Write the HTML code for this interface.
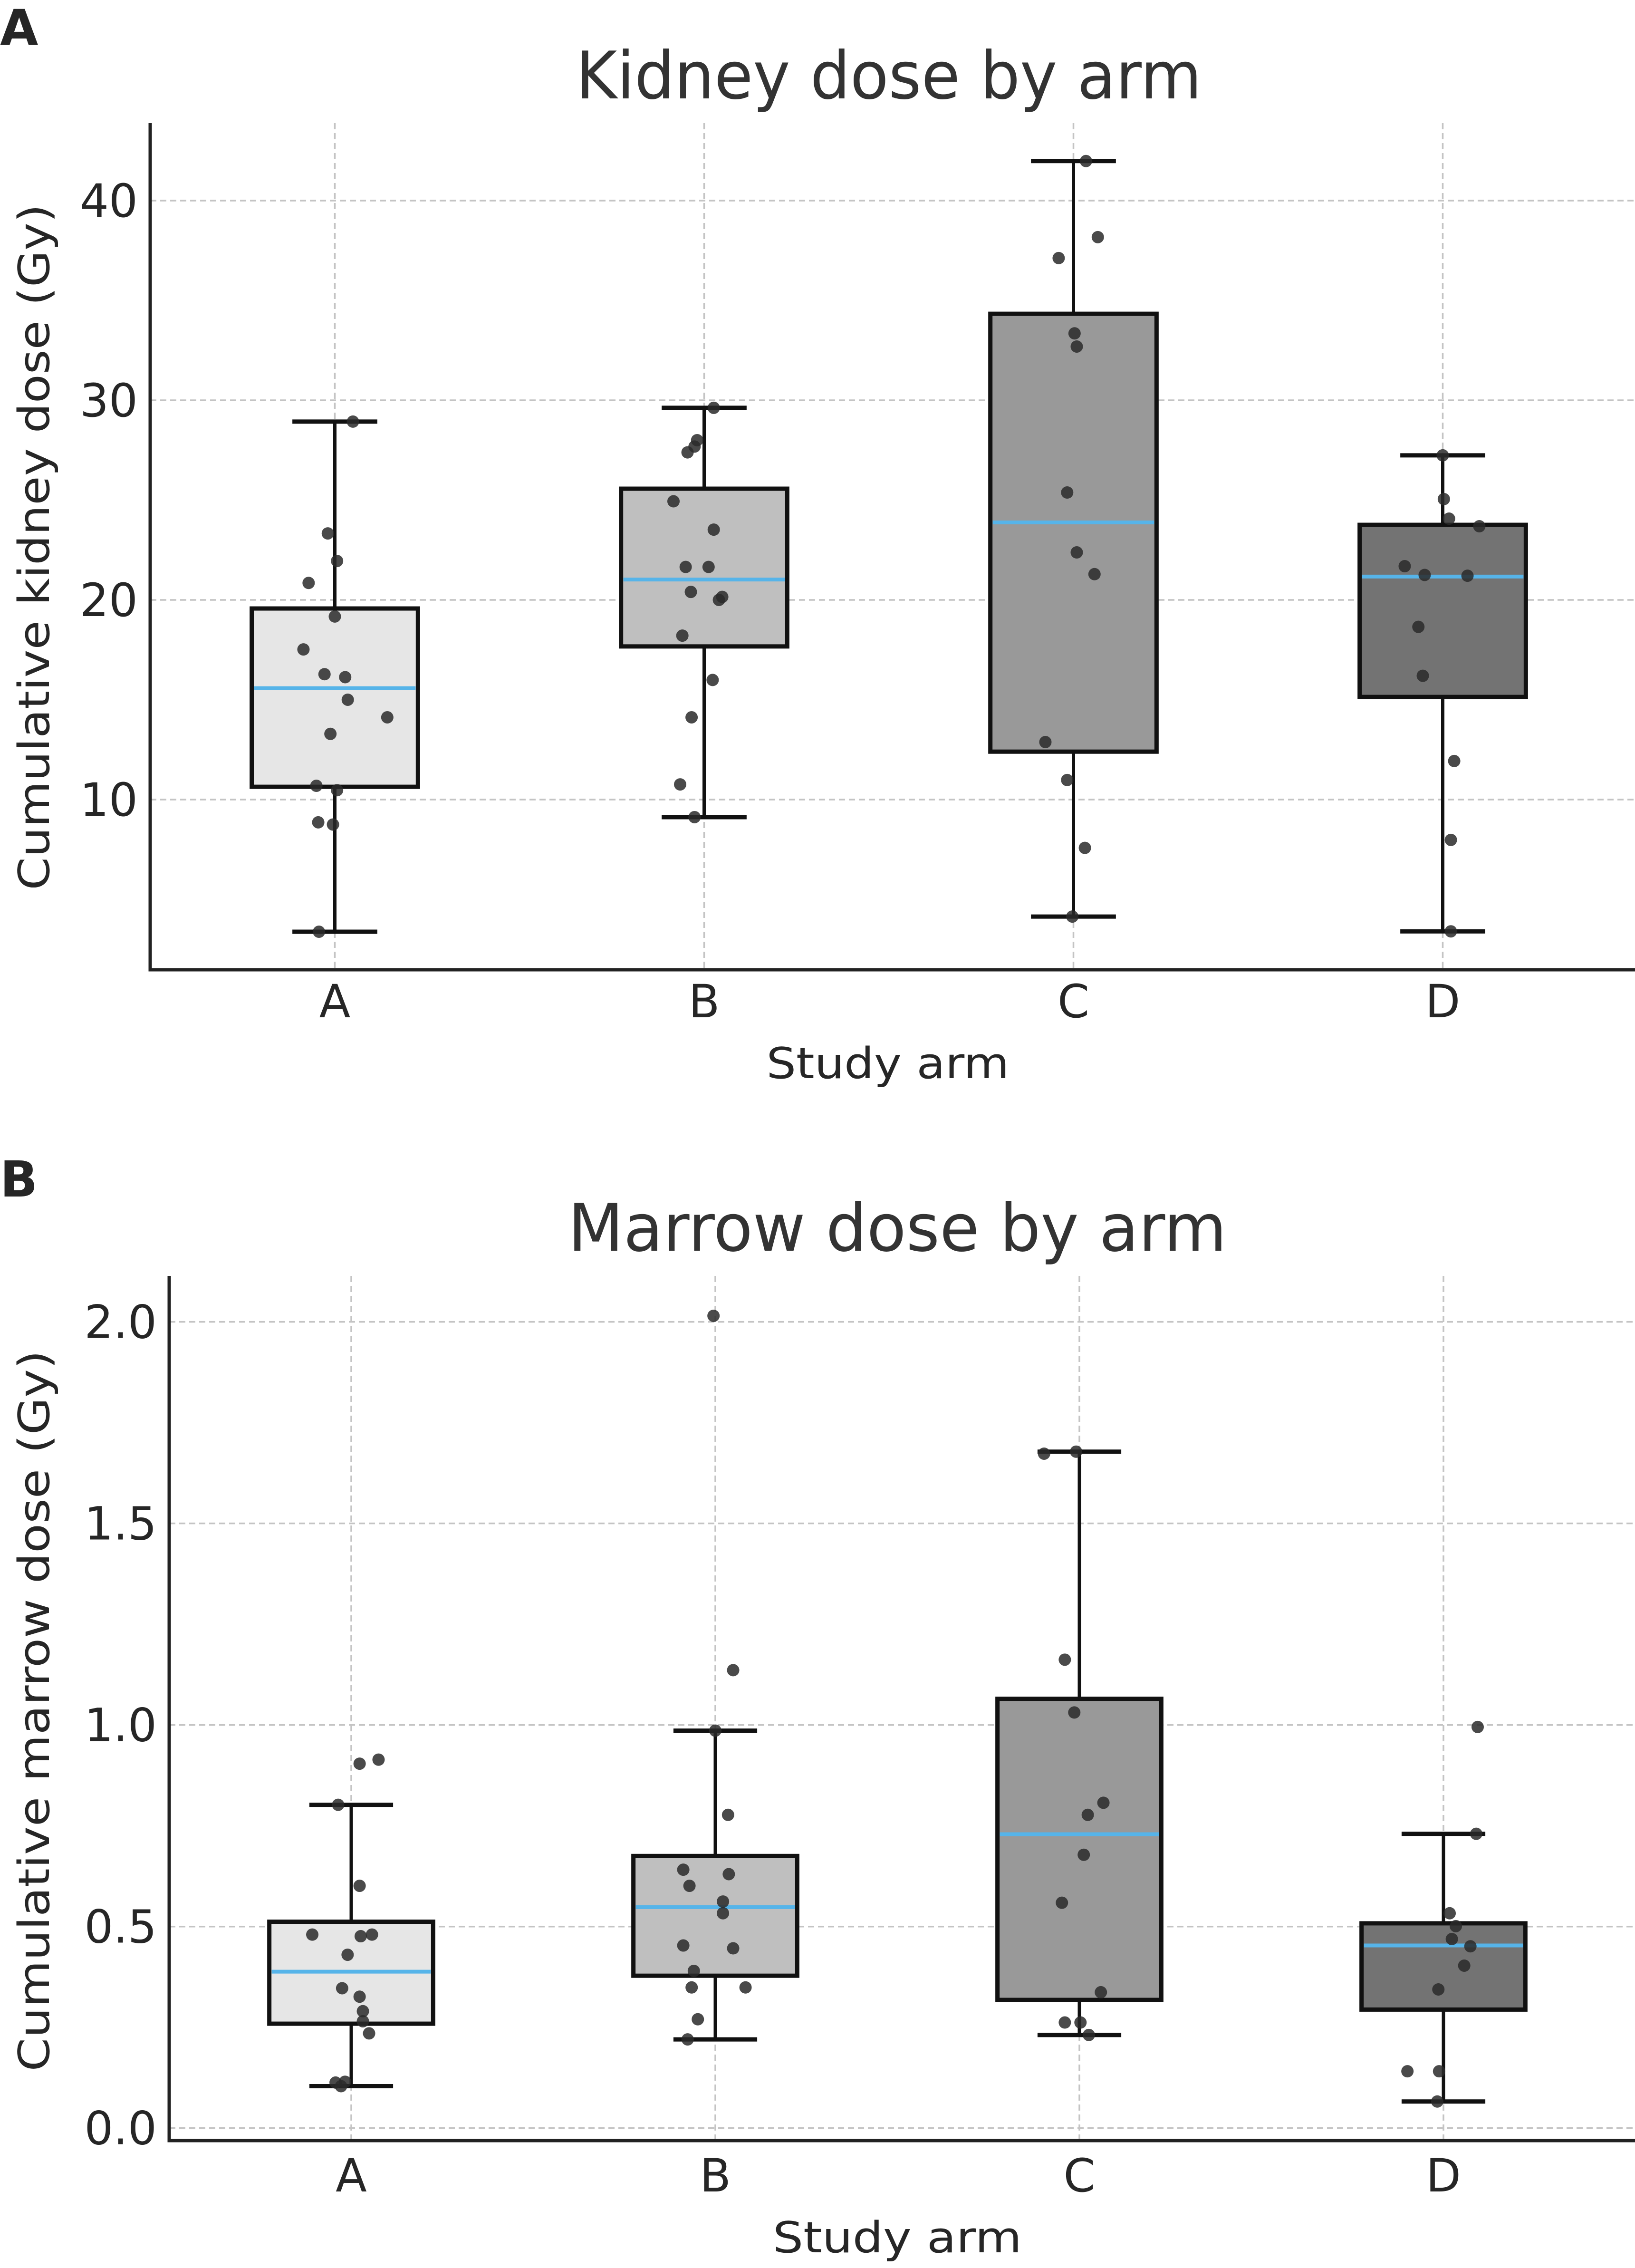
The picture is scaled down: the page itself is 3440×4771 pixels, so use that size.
<!DOCTYPE html>
<html><head><meta charset="utf-8">
<style>
html,body{margin:0;padding:0;background:#fff;}
svg{display:block;}
text{font-family:"DejaVu Sans","Liberation Sans",sans-serif;fill:#262626;}
</style></head>
<body>
<svg id="fig" width="3440" height="4771" viewBox="0 0 3440 4771" xmlns="http://www.w3.org/2000/svg">
<rect width="3440" height="4771" fill="#fff"/>
<text x="0" y="95" font-size="104" font-weight="bold" fill="#000">A</text>
<text x="1870" y="207" font-size="138" text-anchor="middle" textLength="1317" lengthAdjust="spacingAndGlyphs" style="fill:#333">Kidney dose by arm</text>
<text x="1868" y="2268" font-size="90" text-anchor="middle" textLength="511" lengthAdjust="spacingAndGlyphs">Study arm</text>
<text transform="translate(103,1151) rotate(-90)" font-size="90" text-anchor="middle" textLength="1443" lengthAdjust="spacingAndGlyphs">Cumulative kidney dose (Gy)</text>
<text x="0" y="2517" font-size="104" font-weight="bold" fill="#000">B</text>
<text x="1888" y="2631" font-size="138" text-anchor="middle" textLength="1386" lengthAdjust="spacingAndGlyphs" style="fill:#333">Marrow dose by arm</text>
<text x="1888" y="4738" font-size="90" text-anchor="middle" textLength="524" lengthAdjust="spacingAndGlyphs">Study arm</text>
<text transform="translate(103,3599) rotate(-90)" font-size="90" text-anchor="middle" textLength="1517" lengthAdjust="spacingAndGlyphs">Cumulative marrow dose (Gy)</text>
</svg>
<script>
// ---- shared ----
const categories = ["A","B","C","D"];
// ---- Kidney panel data ----
const kidneyTicks = [10,20,30,40];
const kidneyTickLabels = ["10","20","30","40"];
const kidneyWhiskerLow = [3.38, 9.12, 4.14, 3.40];
const kidneyQ1 = [10.64, 17.67, 12.40, 15.14];
const kidneyMedian = [15.58, 21.02, 23.88, 21.17];
const kidneyQ3 = [19.57, 25.57, 34.33, 23.76];
const kidneyWhiskerHigh = [28.93, 29.62, 41.98, 27.24];
const kidneyPointsA = [28.93,23.33,21.95,20.85,19.17,17.52,16.28,16.13,15.0,14.12,13.29,10.69,10.47,8.86,8.75,3.38];
const kidneyJitterA = [.049,-.019,.006,-.071,0,-.085,-.028,.028,.035,.142,-.012,-.05,.006,-.045,-.005,-.043];
const kidneyPointsB = [29.62,28.0,27.68,27.39,24.94,23.52,21.65,21.65,20.4,20.15,20.0,18.21,15.99,14.12,10.76,9.12];
const kidneyJitterB = [.026,-.019,-.026,-.045,-.083,.026,-.05,.012,-.036,.049,.04,-.059,.023,-.034,-.065,-.026];
const kidneyPointsC = [41.98,38.17,37.12,33.35,32.69,25.38,22.38,21.29,12.88,10.98,7.58,4.14];
const kidneyJitterC = [.034,.066,-.04,.003,.009,-.017,.009,.057,-.076,-.017,.031,-.003];
const kidneyPointsD = [27.24,25.05,24.07,23.69,21.69,21.25,21.21,18.65,16.2,11.93,7.98,3.4];
const kidneyJitterD = [0,.003,.017,.099,-.103,-.049,.067,-.066,-.054,.031,.022,.022];
// ---- Marrow panel data ----
const marrowTicks = [0,0.5,1.0,1.5,2.0];
const marrowTickLabels = ["0.0","0.5","1.0","1.5","2.0"];
const marrowWhiskerLow = [0.104, 0.220, 0.231, 0.066];
const marrowQ1 = [0.259, 0.378, 0.318, 0.294];
const marrowMedian = [0.388, 0.548, 0.729, 0.453];
const marrowQ3 = [0.512, 0.675, 1.065, 0.508];
const marrowWhiskerHigh = [0.802, 0.986, 1.678, 0.730];
const marrowPointsA = [.914,.904,.802,.601,.480,.480,.476,.430,.347,.326,.290,.265,.235,.113,.115,.104];
const marrowJitterA = [.075,.023,-.036,.023,-.107,.057,.026,-.01,-.025,.023,.032,.032,.049,-.043,-.017,-.028];
const marrowPointsB = [2.015,1.136,.986,.777,.641,.630,.601,.562,.533,.453,.446,.390,.349,.349,.270,.220];
const marrowJitterB = [-.005,.049,0,.035,-.088,.037,-.071,.021,.021,-.088,.049,-.059,-.065,.083,-.048,-.076];
const marrowPointsC = [1.678,1.673,1.162,1.031,.807,.777,.678,.559,.337,.262,.262,.231];
const marrowJitterC = [-.009,-.097,-.04,-.014,.066,.023,.012,-.048,.059,-.04,.003,.026];
const marrowPointsD = [.995,.730,.533,.501,.469,.451,.403,.344,.141,.141,.066];
const marrowJitterD = [.094,.09,.017,.034,.023,.074,.057,-.014,-.099,-.012,-.017];

const boxFills = ["#e6e6e6","#bfbfbf","#999999","#737373"];
const NS = "http://www.w3.org/2000/svg";
const svg = document.getElementById("fig");
function mk(tag, attrs, parent){
  const e = document.createElementNS(NS, tag);
  for (const k in attrs) e.setAttribute(k, attrs[k]);
  (parent||svg).appendChild(e);
  return e;
}

function drawPanel(p){
  const g = mk("g", {});
  
  
  const band = (p.right - p.left) / categories.length;
  const x = i => p.left + (i + 0.5) * band;
  const y = v => p.bottom - (v - p.yMin) / (p.yMax - p.yMin) * (p.bottom - p.top);
  p.ticks.forEach((t, k) => {
    const gl = mk("line", {x1:p.left, x2:3440, y1:y(t), y2:y(t), stroke:"#c4c4c4", "stroke-width":3.5, "stroke-dasharray":"13 8"}, g);
    
    
    const tl = mk("text", {x:p.left - 26, y:y(t) + 34, "font-size":96, "text-anchor":"end"}, g);
    
    
    tl.textContent = p.tickLabels[k];
  });
  categories.forEach((c, i) => {
    const gl = mk("line", {x1:x(i), x2:x(i), y1:p.top, y2:p.bottom, stroke:"#c4c4c4", "stroke-width":3.5, "stroke-dasharray":"13 8"}, g);
    
    
    const tl = mk("text", {x:x(i), y:p.xLabelY, "font-size":96, "text-anchor":"middle"}, g);
    
    
    tl.textContent = c;
  });
  const bw = 0.45 * band, cw = 0.23 * band;
  categories.forEach((c, i) => {
    const bg = mk("g", {}, g);
    
    
    mk("line", {x1:x(i), x2:x(i), y1:y(p.q3[i]), y2:y(p.hi[i]), stroke:"#111", "stroke-width":7}, bg);
    mk("line", {x1:x(i), x2:x(i), y1:y(p.q1[i]), y2:y(p.lo[i]), stroke:"#111", "stroke-width":7}, bg);
    mk("line", {x1:x(i)-cw/2, x2:x(i)+cw/2, y1:y(p.hi[i]), y2:y(p.hi[i]), stroke:"#111", "stroke-width":9}, bg);
    mk("line", {x1:x(i)-cw/2, x2:x(i)+cw/2, y1:y(p.lo[i]), y2:y(p.lo[i]), stroke:"#111", "stroke-width":9}, bg);
    mk("rect", {x:x(i)-bw/2, y:y(p.q3[i]), width:bw, height:y(p.q1[i]) - y(p.q3[i]), fill:boxFills[i], stroke:"#111", "stroke-width":9}, bg);
    const med = mk("line", {x1:x(i)-bw/2+5, x2:x(i)+bw/2-5, y1:y(p.med[i]), y2:y(p.med[i]), stroke:"#56b4e9", "stroke-width":8}, bg);
    
    
  });
  categories.forEach((c, i) => {
    const vals = p.points[i], jit = p.jitter[i];
    vals.forEach((v, k) => {
      const pt = mk("circle", {cx:x(i + jit[k]), cy:y(v), r:13, fill:"#2a2a2a", "fill-opacity":0.85}, g);
      
      
    });
  });
  const ls = mk("line", {x1:p.left, x2:p.left, y1:p.top, y2:p.bottom, stroke:"#222", "stroke-width":7}, g);
  
  
  const bs = mk("line", {x1:p.left-3.5, x2:3440, y1:p.bottom, y2:p.bottom, stroke:"#222", "stroke-width":7}, g);
  
  
}

drawPanel({name:"kidney", left:316, right:3424, top:259, bottom:2040, yMin:1.476, yMax:43.88,
  ticks:kidneyTicks, tickLabels:kidneyTickLabels, xLabelY:2140,
  lo:kidneyWhiskerLow, q1:kidneyQ1, med:kidneyMedian, q3:kidneyQ3, hi:kidneyWhiskerHigh,
  points:[kidneyPointsA,kidneyPointsB,kidneyPointsC,kidneyPointsD],
  jitter:[kidneyJitterA,kidneyJitterB,kidneyJitterC,kidneyJitterD]});
drawPanel({name:"marrow", left:356, right:3420, top:2684, bottom:4503, yMin:-0.031, yMax:2.114,
  ticks:marrowTicks, tickLabels:marrowTickLabels, xLabelY:4610,
  lo:marrowWhiskerLow, q1:marrowQ1, med:marrowMedian, q3:marrowQ3, hi:marrowWhiskerHigh,
  points:[marrowPointsA,marrowPointsB,marrowPointsC,marrowPointsD],
  jitter:[marrowJitterA,marrowJitterB,marrowJitterC,marrowJitterD]});
</script>
</body></html>
